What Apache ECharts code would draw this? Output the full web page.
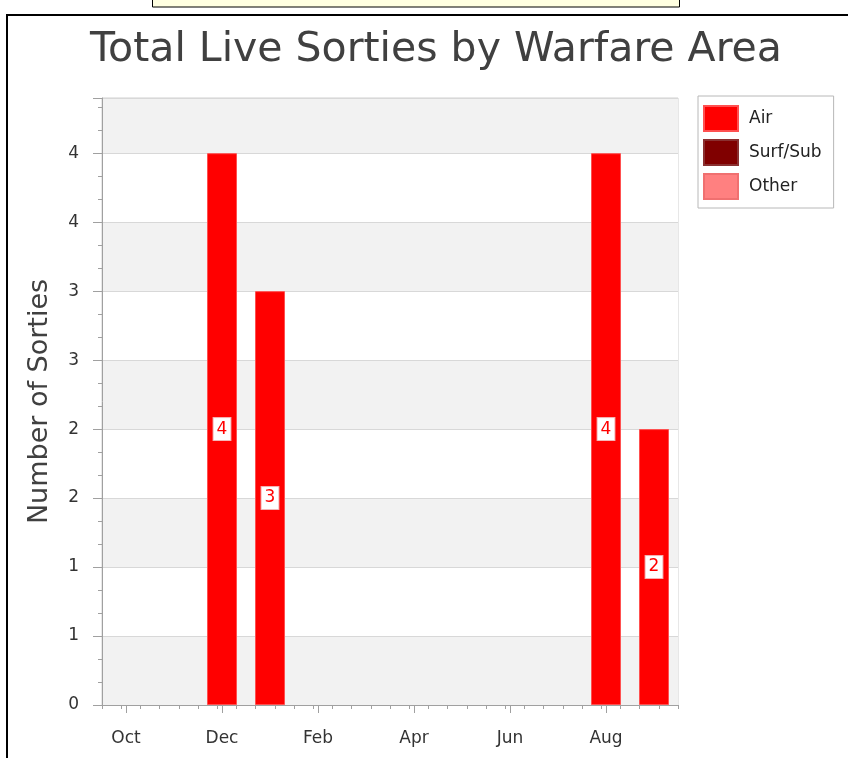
<!DOCTYPE html>
<html>
<head>
<meta charset="utf-8">
<script src="https://cdn.jsdelivr.net/npm/echarts@6/dist/echarts.min.js"></script>
<style>
html,body{margin:0;padding:0;background:#fff;}
#chart{width:848px;height:758px;}
</style>
</head>
<body>
<div id="chart"></div>
<script>
const titleText = 'Total Live Sorties by Warfare Area';
const yAxisName = 'Number of Sorties';
const months = ['Oct','Nov','Dec','Jan','Feb','Mar','Apr','May','Jun','Jul','Aug','Sep'];
const seriesNames = ['Air','Surf/Sub','Other'];
const seriesColors = ['#ff0000','#800000','#ff8080'];
const seriesBorders = ['#ff5050','#8a3030','#f07070'];
const airValues = ['-','-',4,3,'-','-','-','-','-','-',4,2];
const surfSubValues = ['-','-','-','-','-','-','-','-','-','-','-','-'];
const otherValues = ['-','-','-','-','-','-','-','-','-','-','-','-'];
const yMin = 0, yMax = 4.4, yInterval = 0.5;

const FONT = 'DejaVu Sans';
const chart = echarts.init(document.getElementById('chart'));

function mkSeries(name, data, color, border) {
  return {
    name: name, type: 'bar', stack: 'total', data: data,
    xAxisIndex: 0, yAxisIndex: 0,
    barWidth: 30,
    itemStyle: { color: color, borderColor: border, borderWidth: 1 },
    label: {
      show: true, position: 'inside', color: color,
      fontFamily: FONT, fontSize: 17,
      backgroundColor: '#fff', borderColor: '#f4b0b0', borderWidth: 1,
      padding: [3, 3, 2, 3]
    },
    emphasis: { disabled: true }
  };
}

chart.setOption({
  animation: false,
  backgroundColor: '#fff',
  title: {
    text: titleText, left: 431, textAlign: 'center', top: 25,
    textStyle: { fontFamily: FONT, fontSize: 41, fontWeight: 'normal', color: '#404040' }
  },
  legend: {
    orient: 'vertical', left: 698, top: 96,
    data: seriesNames,
    itemWidth: 34, itemHeight: 25, itemGap: 7,
    padding: [9, 12, 8, 5],
    borderColor: '#b8b8b8', borderWidth: 1,
    textStyle: { fontFamily: FONT, fontSize: 17, color: '#222', padding: [0, 0, 0, 6] },
    icon: 'rect'
  },
  grid: { left: 102, right: 170, top: 98, bottom: 53, show: true, borderColor: '#d0d0d0', borderWidth: 1, backgroundColor: 'transparent' },
  xAxis: [{
    type: 'category', data: months, boundaryGap: true,
    axisLine: { onZero: false, lineStyle: { color: '#a0a0a0' } },
    axisTick: { show: true, interval: 1, alignWithLabel: true, length: 8, lineStyle: { color: '#a0a0a0' } },
    axisLabel: { interval: 1, margin: 25, fontFamily: FONT, fontSize: 17, color: '#333' },
    splitLine: { show: false }
  }, {
    type: 'value', position: 'bottom', min: -0.5, max: 11.5, interval: 0.4,
    axisLine: { show: false, onZero: false },
    axisTick: { show: true, length: 4, lineStyle: { color: '#a0a0a0' } },
    axisLabel: { show: false },
    splitLine: { show: false }
  }],
  yAxis: {
    type: 'value', min: yMin, max: yMax, interval: yInterval,
    name: yAxisName, nameLocation: 'middle', nameGap: 49, nameRotate: 90,
    nameTextStyle: { fontFamily: FONT, fontSize: 27, color: '#404040' },
    axisLine: { show: true, onZero: false, lineStyle: { color: '#a0a0a0' } },
    axisTick: { show: true, length: 9, lineStyle: { color: '#a0a0a0' } },
    minorTick: { show: true, splitNumber: 3, length: 4, lineStyle: { color: '#a0a0a0' } },
    axisLabel: { margin: 23, fontFamily: FONT, fontSize: 17, color: '#333',
      formatter: v => String(Math.round(v)), showMaxLabel: false },
    splitLine: { show: true, lineStyle: { color: '#d8d8d8' } },
    splitArea: { show: true, areaStyle: { color: ['#f2f2f2', '#ffffff'] } }
  },
  series: [
    mkSeries(seriesNames[0], airValues, seriesColors[0], seriesBorders[0]),
    mkSeries(seriesNames[1], surfSubValues, seriesColors[1], seriesBorders[1]),
    mkSeries(seriesNames[2], otherValues, seriesColors[2], seriesBorders[2])
  ],
  graphic: [
    { type: 'rect', shape: { x: 152.5, y: -2, width: 527, height: 9 }, style: { fill: '#ffffe1', stroke: '#000', lineWidth: 1 } },
    { type: 'line', shape: { x1: 6, y1: 15, x2: 848, y2: 15 }, style: { stroke: '#000', lineWidth: 2 } },
    { type: 'line', shape: { x1: 7, y1: 14, x2: 7, y2: 758 }, style: { stroke: '#000', lineWidth: 2 } }
  ]
});
</script>
</body>
</html>
